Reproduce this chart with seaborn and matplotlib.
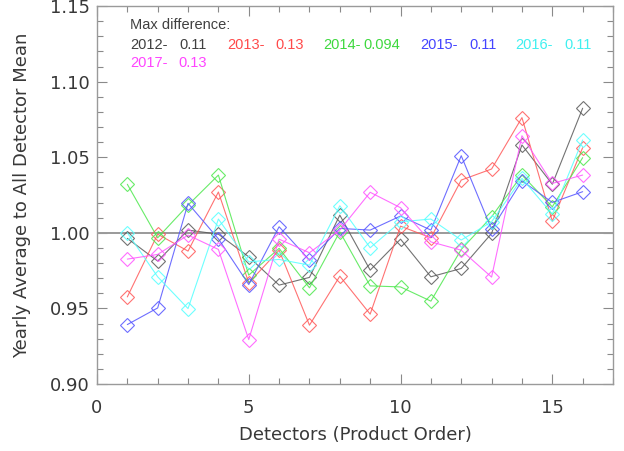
import matplotlib
matplotlib.use("Agg")
import matplotlib.pyplot as plt
from matplotlib.ticker import MultipleLocator
import seaborn as sns
import numpy as np

detectors = list(range(1, 17))
years = ["2012", "2013", "2014", "2015", "2016", "2017"]
max_diff = ["0.11", "0.13", "0.094", "0.11", "0.11", "0.13"]

y2012 = [0.9963, 0.9813, 1.0018, 0.9991, 0.9841, 0.9654, 0.9705, 1.0117,
         0.9753, 0.9958, 0.9709, 0.9764, 0.9996, 1.0581, 1.0321, 1.0824]
y2013 = [0.9576, 0.9991, 0.9879, 1.0270, 0.9669, 0.9885, 0.9389, 0.9713,
         0.9462, 1.0044, 0.9967, 1.0349, 1.0422, 1.0762, 1.0077, 1.0563]
y2014 = [1.0321, 0.9967, 1.0183, 1.0382, 0.9720, 0.9897, 0.9636, 1.0007,
         0.9649, 0.9642, 0.9548, 0.9890, 1.0106, 1.0382, 1.0172, 1.0497]
y2015 = [0.9393, 0.9503, 1.0195, 0.9960, 0.9658, 1.0040, 0.9819, 1.0029,
         1.0018, 1.0111, 1.0018, 1.0510, 1.0023, 1.0344, 1.0201, 1.0272]
y2016 = [1.0000, 0.9709, 0.9499, 1.0091, 0.9808, 0.9824, 0.9786, 1.0179,
         0.9901, 1.0073, 1.0091, 0.9952, 1.0073, 1.0360, 1.0124, 1.0614]
y2017 = [0.9826, 0.9857, 0.9985, 0.9890, 0.9294, 0.9958, 0.9868, 1.0018,
         1.0268, 1.0166, 0.9940, 0.9885, 0.9707, 1.0642, 1.0327, 1.0382]

series = [y2012, y2013, y2014, y2015, y2016, y2017]
line_colors = ["#5a5a5a", "#ff5a5a", "#4ee84e", "#5555ff", "#55ffff", "#ff55ff"]
text_colors = ["#404040", "#ff4a4a", "#3ed83e", "#4444ff", "#40f0f0", "#ff44ff"]

sns.set_style("ticks")
plt.rcParams["font.family"] = ["DejaVu Sans"]

fig = plt.figure(figsize=(6.24, 4.51), dpi=100)
ax = fig.add_axes([0.1554, 0.1486, 0.827, 0.838])

ax.axhline(1.0, color="#9a9a9a", lw=1.4, zorder=1)

for vals, c in zip(series, line_colors):
    sns.lineplot(x=detectors, y=vals, ax=ax, color=c, lw=0.8, marker="D",
                 markersize=7.5, markerfacecolor="none", markeredgecolor=c,
                 markeredgewidth=0.8, alpha=0.85, zorder=2)

ax.set_xlim(0, 17)
ax.set_ylim(0.90, 1.15)
ax.xaxis.set_major_locator(MultipleLocator(5))
ax.xaxis.set_minor_locator(MultipleLocator(1))
ax.yaxis.set_major_locator(MultipleLocator(0.05))
ax.yaxis.set_minor_locator(MultipleLocator(0.01))
ax.yaxis.set_major_formatter(matplotlib.ticker.FormatStrFormatter("%.2f"))
ax.tick_params(which="both", direction="in", top=True, right=True,
               color="#8a8a8a", labelcolor="#383838", labelsize=13)
ax.tick_params(which="major", length=7, width=0.8)
ax.tick_params(which="minor", length=4, width=0.8)
ax.tick_params(axis="x", which="major", pad=11)
ax.tick_params(axis="y", which="major", pad=5)
for s in ax.spines.values():
    s.set_color("#9a9a9a")
    s.set_linewidth(1.0)

ax.set_xlabel("Detectors (Product Order)", fontsize=13, color="#383838",
              labelpad=6)
ax.set_ylabel("Yearly Average to All Detector Mean", fontsize=13,
              color="#383838", labelpad=14)

fs = 10.5
lfont = ["Liberation Sans", "DejaVu Sans"]
ax.text(0.064, 0.950, "Max difference:", transform=ax.transAxes, fontsize=fs,
        color="#404040", va="center", ha="left", family=lfont)
xs = [0.064, 0.252, 0.438, 0.626, 0.810, 0.064]
ys = [0.897, 0.897, 0.897, 0.897, 0.897, 0.849]
for yr, md, c, x0, y0 in zip(years, max_diff, text_colors, xs, ys):
    ax.text(x0, y0, yr + "-", transform=ax.transAxes, fontsize=fs, color=c,
            va="center", ha="left", family=lfont)
    ax.text(x0 + 0.149, y0, md, transform=ax.transAxes, fontsize=fs, color=c,
            va="center", ha="right", family=lfont)

fig.savefig("out.png", dpi=100)
